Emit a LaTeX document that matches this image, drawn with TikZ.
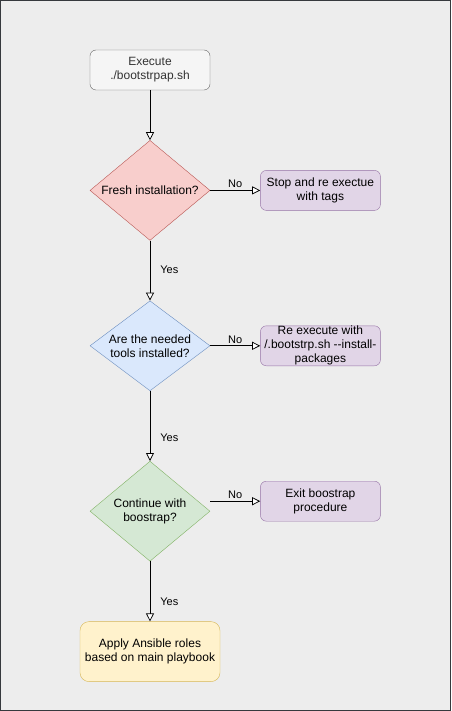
\documentclass[tikz,border=0pt]{standalone}
\usepackage{fontspec}
\setmainfont{Liberation Sans}
\usetikzlibrary{shapes.geometric,arrows.meta,positioning}
\definecolor{pagebg}{HTML}{EDEDED}
\definecolor{frame}{HTML}{36393D}
\definecolor{greyfill}{HTML}{F5F5F5}
\definecolor{greyline}{HTML}{666666}
\definecolor{greytext}{HTML}{333333}
\definecolor{redfill}{HTML}{F8CECC}
\definecolor{redline}{HTML}{B85450}
\definecolor{bluefill}{HTML}{DAE8FC}
\definecolor{blueline}{HTML}{6C8EBF}
\definecolor{greenfill}{HTML}{D5E8D4}
\definecolor{greenline}{HTML}{82B366}
\definecolor{purplefill}{HTML}{E1D5E7}
\definecolor{purpleline}{HTML}{9673A6}
\definecolor{yellowfill}{HTML}{FFF2CC}
\definecolor{yellowline}{HTML}{D6B656}

\begin{document}
\begin{tikzpicture}[x=1pt,y=-1pt,
  font=\fontsize{12}{14}\selectfont,
  box/.style={draw,rounded corners=6pt,minimum width=120pt,minimum height=40pt,inner sep=0pt,align=center},
  startbox/.style={box,fill=greyfill,draw=greyline,text=greytext},
  stopbox/.style={box,fill=purplefill,draw=purpleline},
  finalbox/.style={box,rounded corners=9pt,minimum width=140pt,minimum height=60pt,fill=yellowfill,draw=yellowline},
  decision/.style={diamond,draw,inner sep=0pt,align=center,minimum width=120pt,minimum height=100pt,shape aspect=1.2},
  arr/.style={-{Triangle[width=8pt,length=8pt,fill=white]},line width=0.75pt},
  lbl/.style={font=\fontsize{11}{13}\selectfont,inner sep=2pt}]
\useasboundingbox (0,0) rectangle (451,711);
\draw[fill=pagebg,draw=frame,line width=1pt] (0.5,0.5) rectangle (450.5,710.5);

\node[startbox] (start) at (150,70) {Execute\\./bootstrpap.sh};
\node[decision,fill=redfill,draw=redline,below=50pt of start] (fresh) {Fresh installation?};
\node[stopbox,right=50pt of fresh] (retag) {Stop and re exectue\\with tags};
\node[decision,fill=bluefill,draw=blueline,minimum height=90pt,shape aspect=1.33,below=60pt of fresh] (tools) {Are the needed\\tools installed?};
\node[stopbox,right=50pt of tools] (reinst) {Re execute with\\/.bootstrp.sh -{}-install-\\packages};
\node[decision,fill=greenfill,draw=greenline,below=70pt of tools] (cont) {Continue with\\boostrap?};
\node[stopbox,right=50pt of cont,yshift=10pt] (exit) {Exit boostrap\\procedure};
\node[finalbox,below=60pt of cont] (apply) {Apply Ansible roles\\based on main playbook};

\draw[arr] (start) -- (fresh);
\draw[arr] (fresh) -- node[lbl,above]{No} (retag);
\draw[arr] (fresh) -- node[lbl,right=8pt,pos=0.48]{Yes} (tools);
\draw[arr] (tools) -- node[lbl,above]{No} (reinst);
\draw[arr] (tools) -- node[lbl,right=8pt,pos=0.67]{Yes} (cont);
\draw[arr] (cont.east |- exit.west) -- node[lbl,above]{No} (exit);
\draw[arr] (cont) -- node[lbl,right=8pt,pos=0.67]{Yes} (apply);
\end{tikzpicture}
\end{document}
